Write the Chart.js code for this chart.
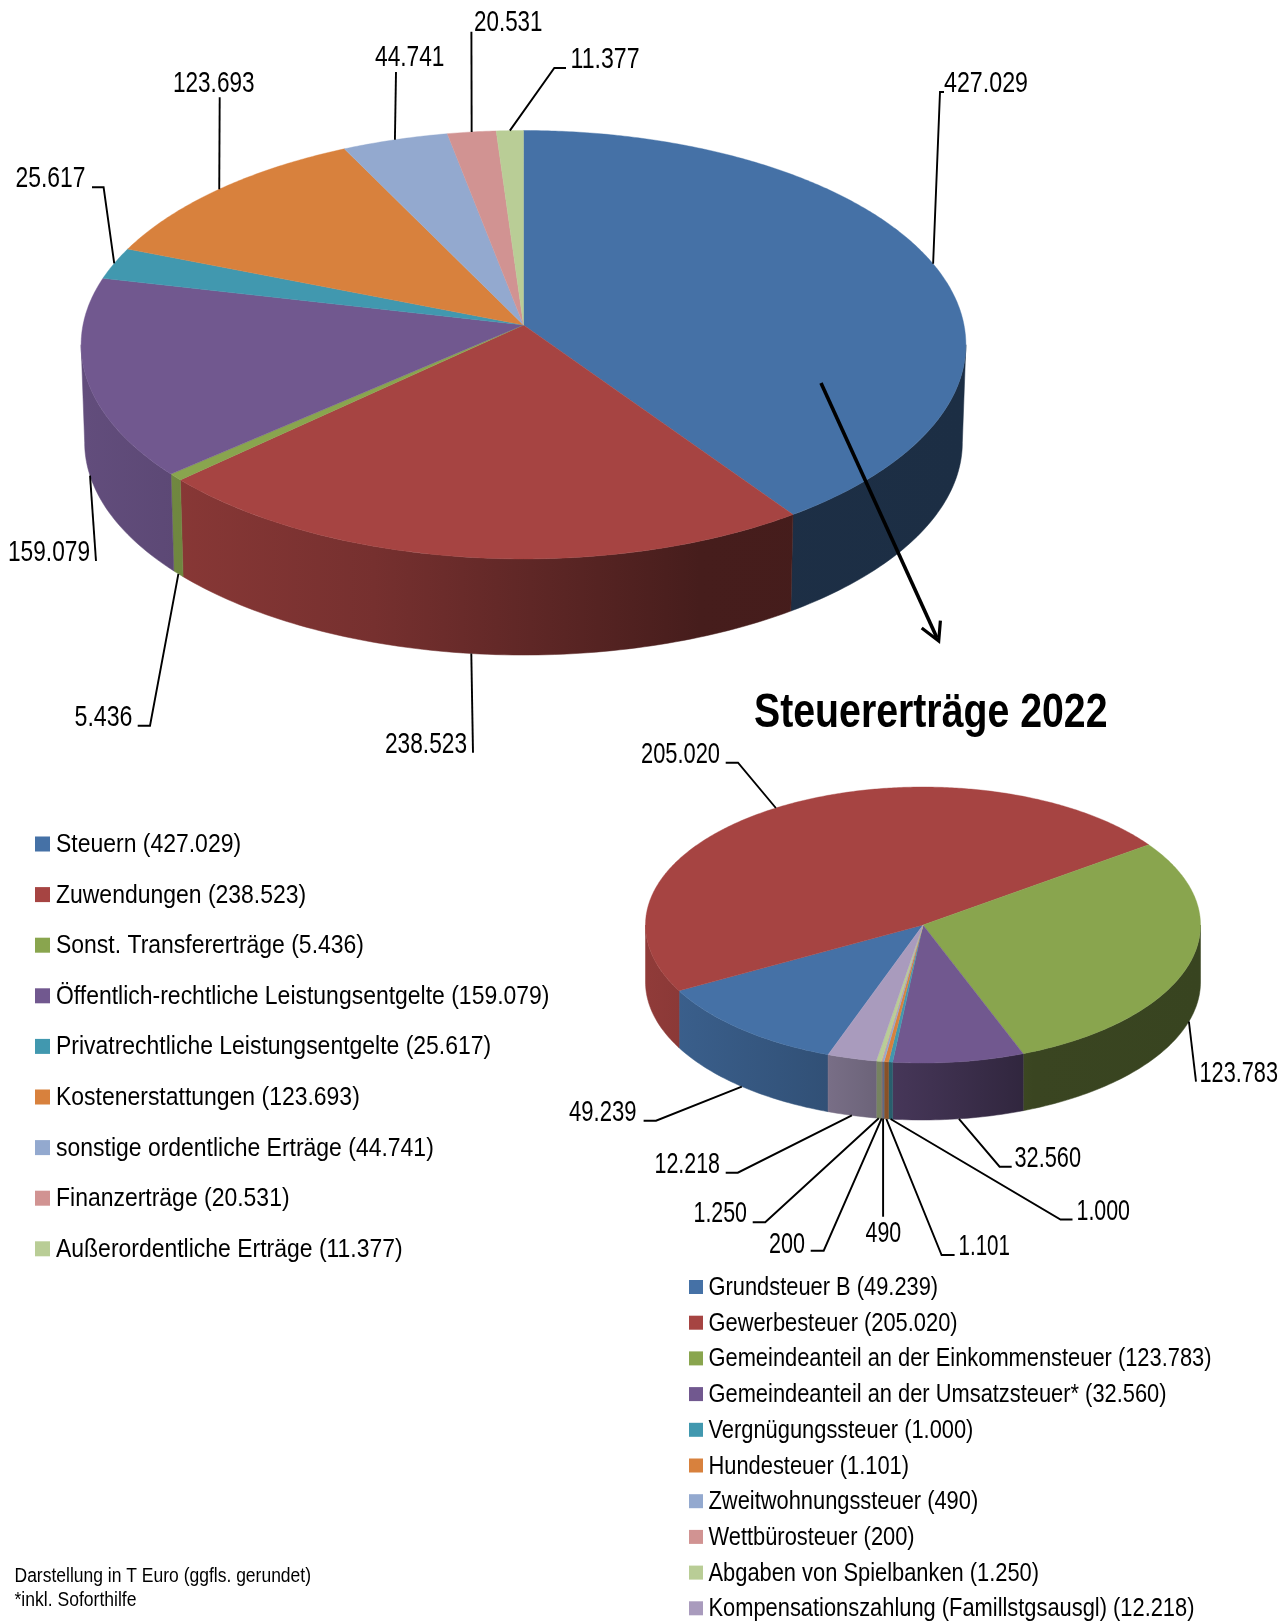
<!DOCTYPE html>
<html lang="de">
<head>
<meta charset="utf-8">
<title>Erträge 2022</title>
<script src="https://cdn.jsdelivr.net/npm/chart.js@4"></script>
<style>
html,body{margin:0;padding:0;background:#fff}
#wrap{position:relative;width:1288px;height:1622px;overflow:hidden}
canvas{position:absolute;left:0;top:0}
</style>
</head>
<body>
<div id="wrap"><canvas id="c1" width="1288" height="1622"></canvas><canvas id="c2" width="1288" height="1622"></canvas></div>
<script>
// ---------- data ----------
const mainCategories = ["Steuern","Zuwendungen","Sonst. Transfererträge","Öffentlich-rechtliche Leistungsentgelte","Privatrechtliche Leistungsentgelte","Kostenerstattungen","sonstige ordentliche Erträge","Finanzerträge","Außerordentliche Erträge"];
const mainValues = [427029,238523,5436,159079,25617,123693,44741,20531,11377];
const taxCategories = ["Grundsteuer B","Gewerbesteuer","Gemeindeanteil an der Einkommensteuer","Gemeindeanteil an der Umsatzsteuer*","Vergnügungssteuer","Hundesteuer","Zweitwohnungssteuer","Wettbürosteuer","Abgaben von Spielbanken","Kompensationszahlung (Famillstgsausgl)"];
const taxValues = [49239,205020,123783,32560,1000,1101,490,200,1250,12218];
const titleText = "Steuererträge 2022";
const footnotes = ["Darstellung in T Euro (ggfls. gerundet)","*inkl. Soforthilfe"];
const palette = ["#4571A6","#A64442","#89A54E","#71588F","#4198AF","#D8813D","#93A9CF","#D19392","#B9CD96","#A99BBD"];

// ---------- layout (styling only) ----------
const FONT = '"Liberation Sans Narrow","Liberation Sans",Arial,sans-serif';
const mainPie = {rotation:0,cx:523.5,cy:325,a:440.5,b:212.4,k:0.092,depth:98,shrink:0.992};
const taxPie  = {rotation:200,cx:923,cy:925,a:277.5,b:138,k:0,depth:57,shrink:1};
// per slice: text left x, text right x, baseline, then leader bend points after the rim point
const mainLabels = [
 {l:944,r:1028,y:92,path:[[940,92],[944,92]]},
 {l:385,r:467,y:752.7,path:[[473,752.7]]},
 {l:74.5,r:132.5,y:725.7,path:[[150,725.7],[137.7,725.7]]},
 {l:8,r:90,y:561,path:[[96,561]]},
 {l:15.6,r:85.5,y:186.7,path:[[103.6,187.3],[92,187.3]]},
 {l:173,r:254.5,y:91.7,path:[[219.7,97.3]]},
 {l:375,r:444.5,y:65.7,path:[[396,72]]},
 {l:474,r:542.5,y:31,path:[[471.4,31.7]]},
 {l:570.5,r:639.5,y:68.3,path:[[554.3,68],[566,68]]}
];
const taxLabels = [
 {l:569,r:636.6,y:1120.7,path:[[656,1120.7],[643.6,1120.7]]},
 {l:641,r:720,y:762.7,path:[[738,762.7],[725.7,762.7]]},
 {l:1199.5,r:1278,y:1081.7,path:[[1196,1081.7]]},
 {l:1014.5,r:1081,y:1166.7,path:[[999.6,1166.7],[1011.7,1166.7]]},
 {l:1076.5,r:1130,y:1219.8,path:[[1060.5,1219.5],[1072.5,1219.5]]},
 {l:958.5,r:1010,y:1255,path:[[941.6,1255],[954.6,1255]]},
 {l:865.5,r:901.2,y:1241.7,path:[[883.1,1216.7]]},
 {l:769,r:805,y:1252.7,path:[[823.7,1250.7],[810.7,1250.7]]},
 {l:693.5,r:747,y:1222.3,path:[[765.2,1222.3],[752.7,1222.3]]},
 {l:654.5,r:720,y:1172.7,path:[[737.8,1172.7],[725.7,1172.7]]}
];
const mainLegend = {sw:35,swSize:15,tx:56,firstBase:852,pitch:50.6,size:26.5,fitRow:3,fitWidth:493.5};
const taxLegend  = {sw:689,swSize:14,tx:708.5,firstBase:1295,pitch:35.7,size:25.5,fitRow:2,fitWidth:503};

// ---------- helpers ----------
const fmt = v => String(v).replace(/\B(?=(\d{3})+$)/g,'.');
function fitText(ctx,str,left,right,base,font){
  ctx.save();ctx.font=font;ctx.textAlign='left';ctx.textBaseline='alphabetic';ctx.fillStyle='#000';
  const w=ctx.measureText(str).width;ctx.translate(left,base);ctx.scale((right-left)/w,1);ctx.fillText(str,0,0);ctx.restore();
}
function shade(hex,f){
  const n=parseInt(hex.slice(1),16);
  return `rgb(${Math.round((n>>16&255)*f)},${Math.round((n>>8&255)*f)},${Math.round((n&255)*f)})`;
}
const lightStops=[[0,.87],[.33,.71],[.47,.6],[.7,.42],[1,.41]];
// perspective mapping of a unit disc; theta is clockwise from the top
function rim(p,theta,bottom){
  const u=Math.sin(theta),v=Math.cos(theta),w=1+p.k*v,s=bottom?p.shrink:1;
  return [p.cx+p.a*s*u/w, p.cy+(bottom?p.depth:0)-p.b*s*v/w];
}

const setups = {};
const pie3d = {
  id:'pie3d',
  beforeDatasetDraw(chart,args){
    const ctx=chart.ctx,cfg=setups[chart.canvas.id],p=cfg.geo,arcs=args.meta.data,colors=chart.data.datasets[0].backgroundColor;
    // side walls, only between the two silhouette tangents of the rim
    const wallFrom=Math.acos(-p.k),wallTo=2*Math.PI-wallFrom;
    arcs.forEach((el,i)=>{
      const s0=el.startAngle+Math.PI/2,e0=el.endAngle+Math.PI/2;
      [0,2*Math.PI].forEach(off=>{
        const s=Math.max(s0,wallFrom+off),e=Math.min(e0,wallTo+off);
        if(e<=s)return;
        const n=Math.max(2,Math.ceil((e-s)/(Math.PI/180)));
        const g=ctx.createLinearGradient(p.cx-p.a,0,p.cx+p.a,0);
        lightStops.forEach(st=>g.addColorStop(st[0],shade(colors[i],st[1])));
        ctx.beginPath();
        for(let j=0;j<=n;j++){const q=rim(p,s+(e-s)*j/n);j?ctx.lineTo(...q):ctx.moveTo(...q);}
        for(let j=n;j>=0;j--)ctx.lineTo(...rim(p,s+(e-s)*j/n,true));
        ctx.closePath();ctx.fillStyle=g;ctx.strokeStyle=g;ctx.lineWidth=.5;ctx.fill();ctx.stroke();
      });
    });
    // top face
    arcs.forEach((el,i)=>{
      const s=el.startAngle+Math.PI/2,e=el.endAngle+Math.PI/2,n=Math.max(2,Math.ceil((e-s)/(Math.PI/360)));
      ctx.beginPath();ctx.moveTo(p.cx,p.cy);
      for(let j=0;j<=n;j++)ctx.lineTo(...rim(p,s+(e-s)*j/n));
      ctx.closePath();ctx.fillStyle=colors[i];ctx.strokeStyle=colors[i];ctx.lineWidth=.4;ctx.fill();ctx.stroke();
    });
    return false;
  },
  afterDatasetsDraw(chart){
    const ctx=chart.ctx,cfg=setups[chart.canvas.id],p=cfg.geo,arcs=chart.getDatasetMeta(0).data,vals=chart.data.datasets[0].data;
    ctx.save();ctx.strokeStyle='#000';ctx.lineWidth=1.9;ctx.lineJoin='miter';
    arcs.forEach((el,i)=>{
      const th=(el.startAngle+el.endAngle)/2+Math.PI/2,L=cfg.labels[i];
      ctx.beginPath();ctx.moveTo(...rim(p,th,Math.cos(th)<0));
      L.path.forEach(q=>ctx.lineTo(q[0],q[1]));ctx.stroke();
      fitText(ctx,fmt(vals[i]),L.l,L.r,L.y,`30px ${FONT}`);
    });
    ctx.restore();
    // legend
    const g=cfg.legend,labels=chart.data.labels,font=`${g.size}px ${FONT}`;
    const row=i=>`${labels[i]} (${fmt(vals[i])})`;
    ctx.font=font;const sx=g.fitWidth/ctx.measureText(row(g.fitRow)).width;
    labels.forEach((_,i)=>{
      const base=g.firstBase+i*g.pitch;
      ctx.fillStyle=chart.data.datasets[0].backgroundColor[i];
      ctx.fillRect(g.sw,base-g.swSize-(g.swSize===15?.5:1),g.swSize,g.swSize);
      ctx.font=font;const w=ctx.measureText(row(i)).width;
      fitText(ctx,row(i),g.tx,g.tx+w*sx,base,font);
    });
    if(cfg.extras)cfg.extras(ctx);
  }
};

function makePie(id,labels,values,colors,geo,labelBoxes,legend,extras){
  setups[id]={geo,labels:labelBoxes,legend,extras};
  return new Chart(document.getElementById(id),{
    type:'pie',
    plugins:[pie3d],
    data:{labels,datasets:[{data:values,backgroundColor:colors,borderWidth:0}]},
    options:{
      responsive:false,animation:false,devicePixelRatio:1,rotation:geo.rotation,
      events:[],
      plugins:{legend:{display:false},tooltip:{enabled:false},title:{display:false}}
    }
  });
}

makePie('c1',mainCategories,mainValues,palette.slice(0,9),mainPie,mainLabels,mainLegend,ctx=>{
  ctx.save();ctx.strokeStyle='#000';ctx.lineCap='butt';
  ctx.lineWidth=3.6;ctx.beginPath();ctx.moveTo(821,383);ctx.lineTo(937,638);ctx.stroke();
  ctx.lineWidth=3.2;ctx.beginPath();ctx.moveTo(921.7,628);ctx.lineTo(938.7,641);ctx.lineTo(940.4,620.7);ctx.stroke();
  ctx.restore();
});
makePie('c2',taxCategories,taxValues,palette,taxPie,taxLabels,taxLegend,ctx=>{
  fitText(ctx,titleText,754,1107.5,726.7,`bold 48px ${FONT}`);
  fitText(ctx,footnotes[0],14.5,311,1582,`20px ${FONT}`);
  fitText(ctx,footnotes[1],14.5,136.5,1605.5,`20px ${FONT}`);
});
</script>
</body>
</html>
